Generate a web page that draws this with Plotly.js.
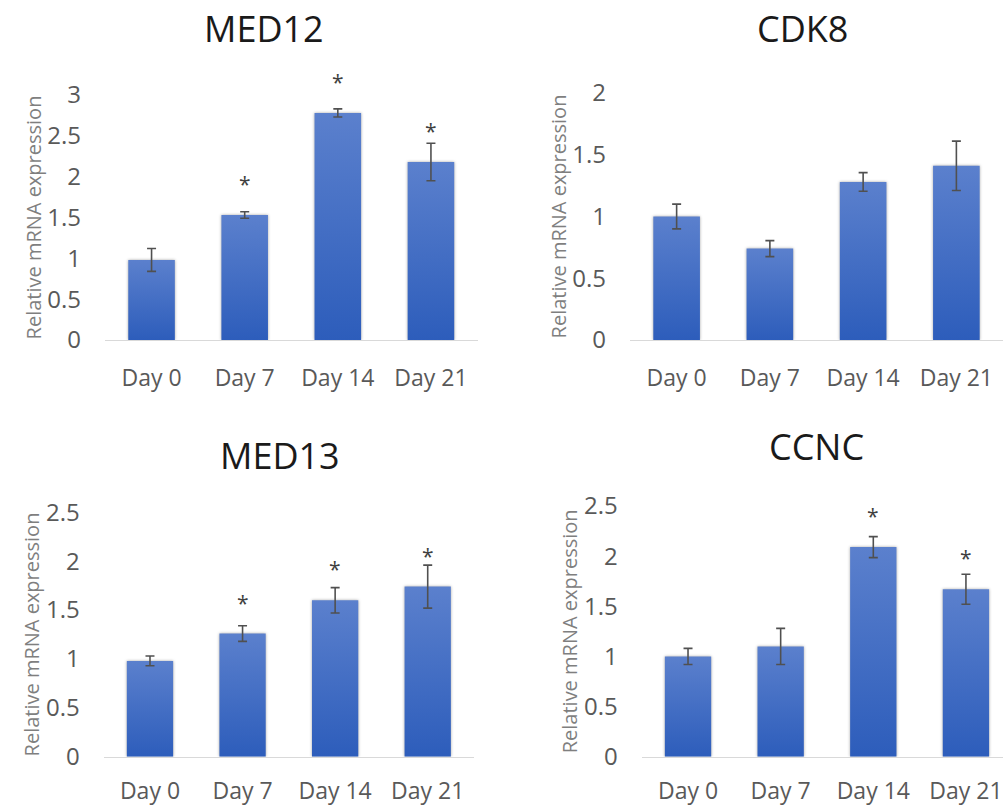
<!DOCTYPE html>
<html><head><meta charset="utf-8">
<script src="https://cdn.plot.ly/plotly-3.0.1.min.js"></script>
<style>body{margin:0;background:#fff}</style>
</head><body><div id="chart" style="width:1003px;height:807px"></div>
<script>
// ---- data ----
const days = ['Day 0', 'Day 7', 'Day 14', 'Day 21'];
const panelTitles = ['MED12', 'CDK8', 'MED13', 'CCNC'];
const yLabel = 'Relative mRNA expression';

const med12 = [0.98, 1.53, 2.78, 2.18];
const med12Err = [0.14, 0.04, 0.05, 0.23];
const med12Sig = ['', '*', '*', '*'];

const cdk8 = [1.00, 0.74, 1.28, 1.41];
const cdk8Err = [0.10, 0.065, 0.075, 0.20];
const cdk8Sig = ['', '', '', ''];

const med13 = [0.98, 1.26, 1.60, 1.74];
const med13Err = [0.05, 0.08, 0.13, 0.22];
const med13Sig = ['', '*', '*', '*'];

const ccnc = [1.00, 1.10, 2.09, 1.67];
const ccncErr = [0.08, 0.18, 0.105, 0.15];
const ccncSig = ['', '', '*', '*'];

const yMax = [3, 2, 2.5, 2.5];

// ---- layout / styling ----
const W = 1003, H = 807;
const FONT = '"Open Sans", "Segoe UI", sans-serif';
const panels = [
  {vals: med12, err: med12Err, sig: med12Sig, xd: [105, 477.5], yd: [340, 95], xr: [-0.5, 3.5], title: [264, 29], xso: 17},
  {vals: cdk8, err: cdk8Err, sig: cdk8Sig, xd: [630, 1003], yd: [340, 93], xr: [-0.5, 3.5], title: [802, 28], xso: 17},
  {vals: med13, err: med13Err, sig: med13Sig, xd: [103.7, 474], yd: [756.7, 512.3], xr: [-0.5, 3.5], title: [280, 455], xso: 14},
  {vals: ccnc, err: ccncErr, sig: ccncSig, xd: [641.7, 1003], yd: [756.7, 506], xr: [-0.5, 3.40], title: [816, 446], xso: 14}
];

const traces = [];
const layout = {
  width: W, height: H,
  margin: {l: 0, r: 0, t: 0, b: 0},
  paper_bgcolor: '#fff', plot_bgcolor: 'rgba(0,0,0,0)',
  showlegend: false,
  bargap: 0.5,
  font: {family: FONT, color: '#595959'},
  annotations: []
};

panels.forEach((p, k) => {
  const sfx = k === 0 ? '' : String(k + 1);
  traces.push({
    type: 'bar', x: days, y: p.vals,
    xaxis: 'x' + sfx, yaxis: 'y' + sfx,
    marker: {color: '#4270C8', line: {width: 0}},
    error_y: {type: 'data', array: p.err, visible: true, color: '#505050', thickness: 1.6, width: 4.5},
    cliponaxis: false,
    hoverinfo: 'none'
  });
  layout['xaxis' + sfx] = {
    domain: [p.xd[0] / W, p.xd[1] / W],
    anchor: 'y' + sfx,
    range: p.xr,
    showgrid: false, zeroline: false,
    showline: true, linecolor: '#d9d9d9', linewidth: 1,
    ticks: '', ticklabelstandoff: p.xso,
    tickfont: {size: 23, color: '#595959', family: FONT},
    fixedrange: true
  };
  layout['yaxis' + sfx] = {
    domain: [1 - p.yd[0] / H, 1 - p.yd[1] / H],
    anchor: 'x' + sfx,
    range: [0, yMax[k]], dtick: 0.5,
    showgrid: false, zeroline: false, showline: false,
    ticks: '', ticklabelstandoff: 23,
    tickfont: {size: 24, color: '#595959', family: FONT},
    title: {text: yLabel, font: {size: 20, color: '#7f7f7f', family: FONT}, standoff: 0},
    fixedrange: true
  };
  layout.annotations.push({
    xref: 'paper', yref: 'paper', x: p.title[0] / W, y: 1 - p.title[1] / H,
    xanchor: 'center', yanchor: 'middle', showarrow: false,
    text: panelTitles[k], font: {size: 36, color: '#1a1a1a', family: FONT}
  });
  p.sig.forEach((s, i) => {
    if (!s) return;
    layout.annotations.push({
      xref: 'x' + sfx, yref: 'y' + sfx, x: days[i], y: p.vals[i],
      text: s, showarrow: false, yanchor: 'middle', yshift: 31,
      font: {size: 21, color: '#404040', family: FONT}
    });
  });
});

Plotly.newPlot('chart', traces, layout, {displayModeBar: false, staticPlot: true}).then(gd => {
  // vertical gradient fill on bars, like the reference
  const svg = gd.querySelector('svg.main-svg');
  const ns = 'http://www.w3.org/2000/svg';
  let defs = svg.querySelector('defs');
  if (!defs) { defs = document.createElementNS(ns, 'defs'); svg.insertBefore(defs, svg.firstChild); }
  const g = document.createElementNS(ns, 'linearGradient');
  g.setAttribute('id', 'barGrad');
  g.setAttribute('x1', '0'); g.setAttribute('y1', '0'); g.setAttribute('x2', '0'); g.setAttribute('y2', '1');
  [['0', '#5B80CD'], ['1', '#2D5DBB']].forEach(([o, c]) => {
    const st = document.createElementNS(ns, 'stop');
    st.setAttribute('offset', o); st.setAttribute('stop-color', c);
    g.appendChild(st);
  });
  defs.appendChild(g);
  gd.querySelectorAll('.trace.bars .point path').forEach(el => {
    el.style.fill = 'url(#barGrad)';
    el.style.filter = 'drop-shadow(0px 0px 1.5px rgba(0,0,0,0.35))';
  });
});
</script>
</body></html>
